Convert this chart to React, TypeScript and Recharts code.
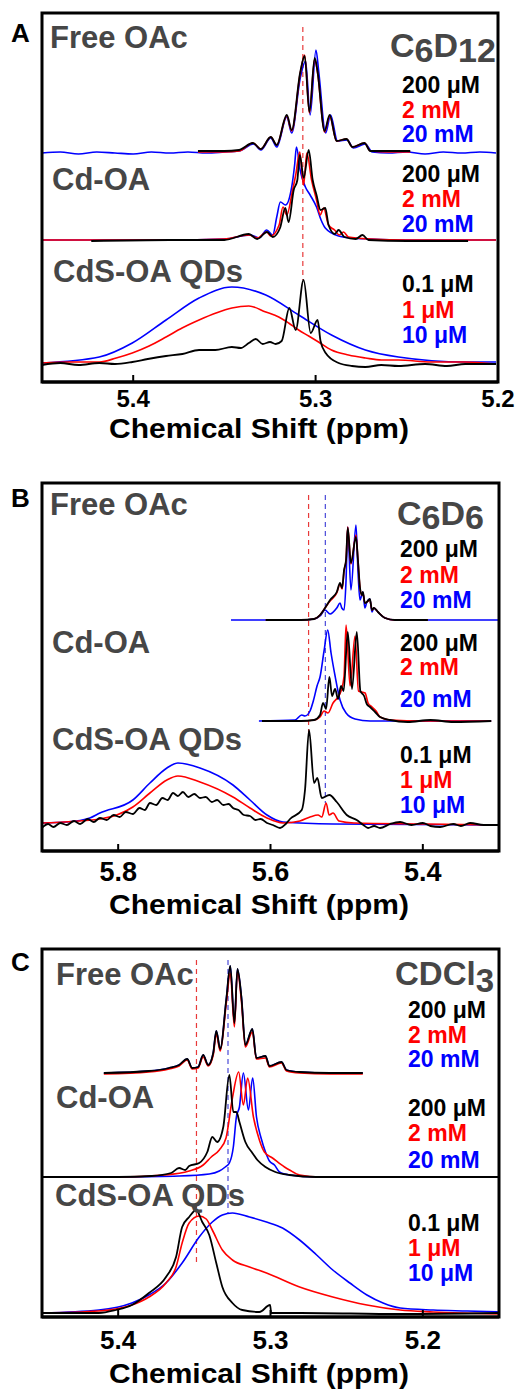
import React from "react";
import { LineChart, Line, XAxis, YAxis, ReferenceLine } from "recharts";

type Pt = [number, number]; // [ppm, intensity]

const BLACK = "#000000";
const RED = "#ff0000";
const BLUE = "#0000ff";
const GRAY = "#464646";

// ---------- Panel A (C6D12) ----------
const aTicks = [5.4, 5.3, 5.2];

const aFreeBlue: Pt[] = [
  [5.45, 0], [5.44, 1], [5.43, -1], [5.42, 1], [5.41, 0], [5.4, -1], [5.39, 1], [5.38, 0],
  [5.37, 1], [5.36, 0], [5.35, 1], [5.342, 2], [5.334, 9], [5.33, 3], [5.3246, 15], [5.3213, 6],
  [5.3158, 36], [5.3131, 20], [5.3084, 75], [5.3055, 92], [5.303, 38], [5.2998, 103], [5.2982, 80],
  [5.2945, 20], [5.2918, 38], [5.288, 12], [5.2826, 13], [5.2793, 5], [5.2727, 9], [5.269, 1],
  [5.26, 0], [5.25, 1], [5.24, -1], [5.23, 1], [5.22, 0], [5.21, 1], [5.2011, 0],
];
const aFreeRed: Pt[] = [
  [5.3645, 1], [5.35, 1], [5.342, 2], [5.3344, 10], [5.33, 4], [5.3246, 16], [5.3213, 8],
  [5.3158, 37], [5.3131, 22], [5.3084, 80], [5.306, 98], [5.3034, 40], [5.3005, 94], [5.2989, 80],
  [5.2951, 21], [5.2923, 37], [5.2885, 12], [5.2831, 14], [5.2798, 6], [5.2732, 10], [5.27, 2],
  [5.26, 1], [5.2481, 1],
];
const aFreeBlack: Pt[] = [
  [5.3645, 2], [5.35, 2], [5.342, 3], [5.3344, 10], [5.33, 4], [5.3246, 16], [5.3213, 8],
  [5.3158, 38], [5.3131, 23], [5.3084, 81], [5.306, 97], [5.3034, 41], [5.3005, 95], [5.2989, 81],
  [5.2951, 22], [5.2923, 38], [5.2885, 12], [5.2831, 14], [5.2798, 6], [5.2732, 10], [5.27, 2],
  [5.26, 2], [5.2481, 2],
];

const aCdBlue: Pt[] = [
  [5.45, 0], [5.38, 0], [5.35, 1], [5.3355, 5], [5.331, 2], [5.3268, 10], [5.3235, 5],
  [5.3213, 23], [5.3193, 38], [5.3165, 35], [5.3131, 53], [5.3115, 75], [5.3105, 93],
  [5.3085, 70], [5.3056, 53], [5.303, 45], [5.2995, 33], [5.297, 20], [5.2947, 12], [5.2874, 4],
  [5.28, 2], [5.27, 1], [5.25, 0], [5.2011, 0],
];
const aCdRed: Pt[] = [
  [5.45, 0], [5.38, 0], [5.35, 1], [5.3366, 5], [5.332, 2], [5.3268, 8], [5.3246, 4], [5.32, 15],
  [5.3179, 33], [5.3158, 25], [5.3126, 50], [5.3109, 65], [5.3087, 88], [5.3066, 55], [5.3048, 87],
  [5.3022, 60], [5.2995, 40], [5.2975, 25], [5.2956, 32], [5.2929, 15], [5.2896, 10], [5.287, 5],
  [5.2847, 8], [5.282, 3], [5.27, 1], [5.25, 0], [5.2011, 0],
];
const aCdBlack: Pt[] = [
  [5.423, -1], [5.38, 0], [5.35, 0], [5.3366, 6], [5.332, 1], [5.3266, 8], [5.3235, 3],
  [5.3195, 12], [5.3166, 32], [5.3148, 18], [5.312, 50], [5.31, 60], [5.3087, 85], [5.3065, 62],
  [5.3038, 90], [5.3016, 60], [5.2995, 45], [5.2973, 30], [5.2947, 32], [5.2929, 15], [5.2895, 6],
  [5.2874, 10], [5.2842, 3], [5.278, 1], [5.2743, 5], [5.271, 0], [5.25, -1], [5.2164, -1],
];

const aQdBlack: Pt[] = [
  [5.45, -2], [5.44, 0], [5.43, -2], [5.4186, 0], [5.41, -1], [5.4005, 1], [5.392, 4], [5.382, 7],
  [5.373, 9], [5.3639, 13], [5.355, 13], [5.3459, 16], [5.341, 15], [5.3366, 20], [5.3328, 24],
  [5.329, 19], [5.325, 21], [5.3219, 19], [5.3186, 22], [5.3144, 55], [5.3109, 33], [5.3066, 83],
  [5.3027, 30], [5.2989, 43], [5.2973, 22], [5.2945, 10], [5.2874, 0], [5.28, -3], [5.2727, -4],
  [5.264, -2], [5.2546, -3], [5.24, -1], [5.228, -3], [5.218, -1], [5.2011, -1],
];
const aQdRed: Pt[] = [
  [5.45, 0], [5.435, 1], [5.4186, 1], [5.4093, 5], [5.4005, 10], [5.3913, 17], [5.382, 26],
  [5.3732, 35], [5.3639, 43], [5.3546, 50], [5.3459, 55], [5.3366, 57], [5.3273, 51], [5.3202, 46],
  [5.3148, 40], [5.3093, 33], [5.3038, 27], [5.2984, 21], [5.2913, 13], [5.282, 8], [5.2727, 5],
  [5.2639, 3], [5.2546, 3], [5.2366, 1], [5.218, 1], [5.2011, -1],
];
const aQdBlue: Pt[] = [
  [5.45, 0], [5.4186, 6], [5.4005, 20], [5.382, 43], [5.3639, 65], [5.3459, 76], [5.3273, 68],
  [5.3093, 48], [5.2913, 28], [5.2727, 13], [5.2546, 6], [5.218, 1], [5.2011, 1],
];

// ---------- Panel B (C6D6) ----------
const bTicks = [5.8, 5.6, 5.4];

const bFreeBlue: Pt[] = [
  [5.6519, 0], [5.6, 0], [5.56, 0], [5.5428, 1], [5.535, 4], [5.5284, 10], [5.5218, 6],
  [5.513, 12], [5.5087, 17], [5.5064, 12], [5.5034, 10], [5.5008, 40], [5.4986, 93], [5.4944, 30],
  [5.4878, 95], [5.4852, 50], [5.4826, 20], [5.4787, 28], [5.4761, 12], [5.4735, 18], [5.4695, 21],
  [5.4668, 8], [5.4642, 12], [5.4589, 8], [5.4497, 2], [5.4366, 0], [5.3934, 0], [5.2997, 0],
];
const bFreeRed: Pt[] = [
  [5.6063, 0], [5.56, 0], [5.5428, 1], [5.535, 5], [5.5284, 12], [5.5218, 19], [5.513, 27],
  [5.5087, 36], [5.506, 31], [5.5034, 49], [5.5008, 60], [5.4986, 93], [5.4944, 56], [5.4878, 85],
  [5.4852, 60], [5.4826, 33], [5.48, 25], [5.4787, 27], [5.4761, 17], [5.4735, 18], [5.4695, 20],
  [5.4668, 10], [5.4642, 12], [5.4589, 8], [5.4497, 2], [5.4366, 0], [5.3934, 0],
];
const bFreeBlack: Pt[] = [
  [5.6063, 0], [5.56, 0], [5.5428, 1], [5.535, 5], [5.5284, 12], [5.5218, 20], [5.513, 28],
  [5.5087, 37], [5.506, 32], [5.5034, 50], [5.5008, 60], [5.4986, 92], [5.4944, 57], [5.4878, 83],
  [5.4852, 60], [5.4826, 33], [5.48, 25], [5.4787, 28], [5.4761, 17], [5.4735, 18], [5.4695, 21],
  [5.4668, 10], [5.4642, 12], [5.4589, 8], [5.4497, 2], [5.4366, 0], [5.3934, 0],
];

const bCdBlue: Pt[] = [
  [5.6152, 0], [5.5679, 1], [5.559, 6], [5.5547, 5], [5.5481, 10], [5.5438, 20], [5.5389, 35],
  [5.535, 44], [5.5297, 70], [5.5249, 91], [5.5205, 68], [5.5152, 45], [5.5087, 21], [5.5008, 8],
  [5.489, 2], [5.4693, 0], [5.3102, 0],
];
const bCdRed: Pt[] = [
  [5.6112, 0], [5.56, 0], [5.5428, 1], [5.535, 4], [5.5297, 10], [5.5245, 8], [5.5179, 18],
  [5.5113, 24], [5.5074, 30], [5.5034, 45], [5.5008, 96], [5.4955, 35], [5.489, 85], [5.4845, 30],
  [5.4758, 28], [5.4719, 18], [5.4667, 14], [5.4614, 10], [5.4562, 4], [5.443, 1], [5.4, 0],
  [5.3102, 0],
];
const bCdBlack: Pt[] = [
  [5.6112, 0], [5.56, 0], [5.5428, 1], [5.535, 6], [5.531, 18], [5.527, 12], [5.5227, 44],
  [5.5192, 25], [5.5152, 32], [5.5113, 22], [5.5074, 35], [5.504, 30], [5.4986, 89], [5.493, 32],
  [5.4867, 89], [5.482, 30], [5.4771, 25], [5.4736, 17], [5.4693, 14], [5.4627, 9], [5.4562, 4],
  [5.443, 1], [5.42, -1], [5.39, 1], [5.36, -1], [5.3102, 0],
];

const bQdBlack: Pt[] = [
  [5.9003, -3], [5.892, 1], [5.885, -2], [5.876, 2], [5.8674, 0], [5.858, 4], [5.85, 1], [5.84, 6],
  [5.832, 3], [5.824, 7], [5.815, 5], [5.806, 10], [5.798, 8], [5.79, 13], [5.7807, 11],
  [5.772, 17], [5.765, 15], [5.7583, 22], [5.75, 20], [5.742, 27], [5.735, 25], [5.728, 32],
  [5.7216, 29], [5.715, 33], [5.708, 28], [5.7, 31], [5.6926, 27], [5.685, 28], [5.677, 23],
  [5.67, 25], [5.662, 20], [5.655, 21], [5.6493, 17], [5.642, 15], [5.635, 10], [5.6269, 9],
  [5.62, 5], [5.613, 6], [5.6046, 2], [5.597, 0], [5.5875, -3], [5.58, 1], [5.5744, 6],
  [5.559, 15], [5.5547, 35], [5.5494, 95], [5.5428, 42], [5.5385, 47], [5.5327, 27], [5.5227, 30],
  [5.513, 23], [5.4999, 10], [5.4868, 5], [5.478, 0], [5.4719, -3], [5.464, -1], [5.4562, -3],
  [5.443, 1], [5.4299, 3], [5.415, 0], [5.4, 2], [5.39, -1], [5.3774, -2], [5.36, 1], [5.35, -1],
  [5.338, 2], [5.32, 0], [5.2997, 0],
];
const bQdRed: Pt[] = [
  [5.9003, 2], [5.824, 6], [5.7807, 18], [5.7583, 32], [5.736, 45], [5.7216, 49], [5.6926, 43],
  [5.6493, 28], [5.6269, 17], [5.6046, 7], [5.5836, 2], [5.5613, 4], [5.5481, 8], [5.5376, 10],
  [5.5327, 8], [5.527, 22], [5.523, 10], [5.5179, 12], [5.51, 4], [5.4904, 2], [5.4, 1], [5.2997, 0],
];
const bQdBlue: Pt[] = [
  [5.9003, 2], [5.8674, 3], [5.8372, 7], [5.824, 12], [5.7807, 25], [5.7583, 42], [5.736, 57],
  [5.7216, 62], [5.6926, 57], [5.6493, 40], [5.6269, 25], [5.6046, 10], [5.5836, 3], [5.5179, 1],
  [5.2997, 0],
];

// ---------- Panel C (CDCl3) ----------
const cTicks = [5.4, 5.3, 5.2];

const cFreeBlue: Pt[] = [
  [5.4094, 0], [5.3798, 2], [5.3666, 5], [5.36, 8], [5.3547, 14], [5.3514, 5], [5.3475, 6],
  [5.3442, 18], [5.3409, 8], [5.3376, 20], [5.3356, 42], [5.333, 24], [5.329, 74], [5.3264, 107],
  [5.3237, 50], [5.3217, 104], [5.3191, 76], [5.3165, 28], [5.3119, 44], [5.3093, 15],
  [5.3033, 17], [5.3007, 7], [5.2928, 11], [5.2895, 3], [5.2809, 1], [5.2611, 0], [5.2394, 0],
];
const cFreeRed: Pt[] = [
  [5.4094, -1], [5.3798, 1], [5.3666, 4], [5.36, 7], [5.3547, 13], [5.3514, 4], [5.3475, 5],
  [5.3442, 16], [5.3409, 7], [5.3376, 18], [5.3356, 39], [5.333, 22], [5.329, 70], [5.3264, 100],
  [5.3237, 46], [5.3217, 102], [5.3191, 72], [5.3165, 26], [5.3119, 41], [5.3093, 14],
  [5.3033, 15], [5.3007, 6], [5.2928, 10], [5.2895, 2], [5.2809, 0], [5.2611, -1], [5.2394, -1],
];
const cFreeBlack: Pt[] = [
  [5.4094, 0], [5.3798, 2], [5.3666, 5], [5.36, 8], [5.3547, 14], [5.3514, 5], [5.3475, 6],
  [5.3442, 18], [5.3409, 8], [5.3376, 20], [5.3356, 42], [5.333, 24], [5.329, 74], [5.3264, 107],
  [5.3237, 50], [5.3217, 104], [5.3191, 76], [5.3165, 28], [5.3119, 44], [5.3093, 15],
  [5.3033, 17], [5.3007, 7], [5.2928, 11], [5.2895, 3], [5.2809, 1], [5.2611, 0], [5.2394, 0],
];

const cCdBlue: Pt[] = [
  [5.3995, 0], [5.36, 1], [5.3402, 3], [5.3336, 6], [5.3297, 10], [5.327, 14], [5.3244, 30],
  [5.3224, 60], [5.3204, 70], [5.3178, 104], [5.3145, 67], [5.3117, 99], [5.3092, 60], [5.306, 38],
  [5.3033, 25], [5.3007, 16], [5.2974, 12], [5.2941, 5], [5.2875, 2], [5.27, 0], [5.1833, 0],
];
const cCdRed: Pt[] = [
  [5.451, 0], [5.4, 0], [5.37, 2], [5.3534, 6], [5.3442, 12], [5.3389, 20], [5.3336, 27],
  [5.3292, 39], [5.325, 79], [5.3209, 105], [5.3178, 72], [5.315, 99], [5.3112, 60], [5.3073, 37],
  [5.304, 25], [5.2987, 19], [5.2908, 10], [5.2875, 7], [5.2809, 2], [5.2677, 0], [5.1984, 0],
];
const cCdBlack: Pt[] = [
  [5.451, 0], [5.4, 0], [5.378, 1], [5.3653, 4], [5.36, 9], [5.356, 7], [5.3534, 11],
  [5.3468, 14], [5.3415, 25], [5.3382, 40], [5.335, 35], [5.331, 50], [5.327, 102], [5.3244, 65],
  [5.3224, 65], [5.3204, 55], [5.3165, 35], [5.3119, 24], [5.3086, 17], [5.3033, 10], [5.2968, 5],
  [5.2875, 2], [5.27, 0], [5.1497, 0],
];

const cQdBlack: Pt[] = [
  [5.451, 0], [5.4127, 0], [5.4015, 3], [5.391, 8], [5.3798, 20], [5.3686, 36], [5.362, 56],
  [5.358, 86], [5.3534, 96], [5.3488, 103], [5.3448, 91], [5.3402, 78], [5.3356, 50], [5.3316, 26],
  [5.325, 10], [5.3185, 3], [5.3073, 1], [5.3003, 8], [5.2995, 0], [5.28, 0], [5.2149, -1],
  [5.1497, 0],
];
const cQdRed: Pt[] = [
  [5.451, 0], [5.4127, 2], [5.391, 8], [5.3798, 16], [5.3686, 30], [5.362, 46], [5.358, 70],
  [5.3534, 90], [5.3468, 97], [5.3422, 94], [5.3382, 83], [5.3316, 63], [5.325, 53], [5.3138, 46],
  [5.3026, 40], [5.2809, 26], [5.2591, 16], [5.2367, 8], [5.2149, 3], [5.1932, 1], [5.1497, -1],
];
const cQdBlue: Pt[] = [
  [5.451, 0], [5.4127, 3], [5.391, 10], [5.3798, 18], [5.3686, 30], [5.358, 50], [5.3468, 76],
  [5.3382, 91], [5.3316, 98], [5.325, 100], [5.3138, 96], [5.3026, 91], [5.2921, 85], [5.2809, 73],
  [5.2697, 58], [5.2591, 43], [5.2479, 30], [5.2367, 18], [5.2261, 10], [5.2149, 5], [5.1932, 3],
  [5.1708, 2], [5.1497, 1],
];

// ---------- layout ----------
type Trace = { pts: Pt[]; off: number; color: string; w: number };
type Dash = { x: number; y1: number; y2: number; color: string };
type Conc = { text: string; color: string; base: number };

interface PanelSpec {
  letter: string;
  letterBase: number;
  top: number;
  bottom: number;
  left: number;
  right: number;
  domain: [number, number];
  ticks: number[];
  tickFont: number;
  tickGap: number;
  titleBase: number;
  traces: Trace[];
  dashes: Dash[];
  groups: { text: string; x: number; base: number }[];
  solvent: { parts: [string, boolean][]; x: number; base: number; size: number; sub: number };
  concX: number;
  conc: Conc[];
}

const trio = (blue: Pt[], red: Pt[], black: Pt[], off: number): Trace[] => [
  { pts: blue, off, color: BLUE, w: 1.6 },
  { pts: red, off, color: RED, w: 1.6 },
  { pts: black, off, color: BLACK, w: 1.8 },
];

const panels: PanelSpec[] = [
  {
    letter: "A", letterBase: 42, top: 13, bottom: 382, left: 42, right: 498,
    domain: [5.2, 5.45], ticks: aTicks, tickFont: 24, tickGap: 8, titleBase: 438,
    traces: [
      ...trio(aFreeBlue, aFreeRed, aFreeBlack, 229),
      ...trio(aCdBlue, aCdRed, aCdBlack, 142),
      ...trio(aQdBlue, aQdRed, aQdBlack, 19),
    ],
    dashes: [{ x: 5.307, y1: 355, y2: 102, color: "#e83a3a" }],
    groups: [
      { text: "Free OAc", x: 50, base: 48 },
      { text: "Cd-OA", x: 52, base: 190 },
      { text: "CdS-OA QDs", x: 53, base: 282 },
    ],
    solvent: { parts: [["C", false], ["6", true], ["D", false], ["12", true]], x: 390, base: 57, size: 34, sub: 5 },
    concX: 402,
    conc: [
      { text: "200 \u03bcM", color: BLACK, base: 93 },
      { text: "2 mM", color: RED, base: 118 },
      { text: "20 mM", color: BLUE, base: 142 },
      { text: "200 \u03bcM", color: BLACK, base: 182 },
      { text: "2 mM", color: RED, base: 207 },
      { text: "20 mM", color: BLUE, base: 232 },
      { text: "0.1 \u03bcM", color: BLACK, base: 292 },
      { text: "1 \u03bcM", color: RED, base: 318 },
      { text: "10 \u03bcM", color: BLUE, base: 343 },
    ],
  },
  {
    letter: "B", letterBase: 507, top: 483, bottom: 851, left: 42, right: 499,
    domain: [5.3, 5.9], ticks: bTicks, tickFont: 27, tickGap: 11, titleBase: 914,
    traces: [
      ...trio(bFreeBlue, bFreeRed, bFreeBlack, 231),
      ...trio(bCdBlue, bCdRed, bCdBlack, 130),
      ...trio(bQdBlue, bQdRed, bQdBlack, 26),
    ],
    dashes: [
      { x: 5.55, y1: 356, y2: 118, color: "#e83a3a" },
      { x: 5.528, y1: 356, y2: 48, color: "#4a4ad8" },
    ],
    groups: [
      { text: "Free OAc", x: 50, base: 515 },
      { text: "Cd-OA", x: 52, base: 653 },
      { text: "CdS-OA QDs", x: 52, base: 750 },
    ],
    solvent: { parts: [["C", false], ["6", true], ["D", false], ["6", true]], x: 397, base: 525, size: 34, sub: 4 },
    concX: 400,
    conc: [
      { text: "200 \u03bcM", color: BLACK, base: 557 },
      { text: "2 mM", color: RED, base: 583 },
      { text: "20 mM", color: BLUE, base: 608 },
      { text: "200 \u03bcM", color: BLACK, base: 651 },
      { text: "2 mM", color: RED, base: 675 },
      { text: "20 mM", color: BLUE, base: 707 },
      { text: "0.1 \u03bcM", color: BLACK, base: 763 },
      { text: "1 \u03bcM", color: RED, base: 788 },
      { text: "10 \u03bcM", color: BLUE, base: 813 },
    ],
  },
  {
    letter: "C", letterBase: 971, top: 949, bottom: 1317, left: 42, right: 499,
    domain: [5.15, 5.45], ticks: cTicks, tickFont: 26, tickGap: 14, titleBase: 1383,
    traces: [
      ...trio(cFreeBlue, cFreeRed, cFreeBlack, 244),
      ...trio(cCdBlue, cCdRed, cCdBlack, 140),
      ...trio(cQdBlue, cQdRed, cQdBlack, 4),
    ],
    dashes: [
      { x: 5.3486, y1: 357, y2: 52, color: "#e83a3a" },
      { x: 5.3279, y1: 357, y2: 104, color: "#4a4ad8" },
    ],
    groups: [
      { text: "Free OAc", x: 56, base: 985 },
      { text: "Cd-OA", x: 56, base: 1108 },
      { text: "CdS-OA QDs", x: 55, base: 1206 },
    ],
    solvent: { parts: [["CDCl", false], ["3", true]], x: 395, base: 985, size: 33, sub: 7 },
    concX: 408,
    conc: [
      { text: "200 \u03bcM", color: BLACK, base: 1018 },
      { text: "2 mM", color: RED, base: 1043 },
      { text: "20 mM", color: BLUE, base: 1067 },
      { text: "200 \u03bcM", color: BLACK, base: 1116 },
      { text: "2  mM", color: RED, base: 1141 },
      { text: "20 mM", color: BLUE, base: 1168 },
      { text: "0.1 \u03bcM", color: BLACK, base: 1231 },
      { text: "1 \u03bcM", color: RED, base: 1256 },
      { text: "10 \u03bcM", color: BLUE, base: 1281 },
    ],
  },
];

const FONT = "'Liberation Sans', Arial, Helvetica, sans-serif";
const PAD_TOP = 10;
const AXIS_H = 50;

function Panel({ p }: { p: PanelSpec }) {
  const plotH = p.bottom - p.top;
  return (
    <div style={{ position: "absolute", left: 0, top: p.top - PAD_TOP }}>
      <LineChart
        width={528}
        height={plotH + PAD_TOP + AXIS_H}
        margin={{ top: PAD_TOP, right: 528 - p.right, bottom: 0, left: p.left }}
      >
        <XAxis
          dataKey="ppm"
          type="number"
          domain={p.domain}
          reversed
          allowDataOverflow
          ticks={p.ticks}
          height={AXIS_H}
          tickSize={-7}
          tickMargin={7 + p.tickGap}
          axisLine={{ stroke: BLACK, strokeWidth: 3 }}
          tickLine={{ stroke: BLACK, strokeWidth: 2 }}
          tick={{ fill: BLACK, fontSize: p.tickFont, fontWeight: "bold", fontFamily: FONT }}
        />
        <YAxis hide type="number" domain={[0, plotH]} allowDataOverflow />
        {p.dashes.map((d, i) => (
          <ReferenceLine
            key={"d" + i}
            segment={[{ x: d.x, y: d.y1 }, { x: d.x, y: d.y2 }]}
            stroke={d.color}
            strokeWidth={1.2}
            strokeDasharray="5 4"
          />
        ))}
        {p.traces.map((t, i) => (
          <Line
            key={"t" + i}
            data={t.pts.map(([ppm, v]) => ({ ppm, y: v + t.off }))}
            dataKey="y"
            type="monotone"
            stroke={t.color}
            strokeWidth={t.w}
            dot={false}
            activeDot={false}
            isAnimationActive={false}
          />
        ))}
      </LineChart>
    </div>
  );
}

function Overlay() {
  return (
    <svg
      width={528}
      height={1392}
      style={{ position: "absolute", left: 0, top: 0, pointerEvents: "none" }}
      fontFamily={FONT}
      fontWeight="bold"
    >
      {panels.map((p) => (
        <g key={p.letter}>
          <rect
            x={p.left}
            y={p.top}
            width={p.right - p.left}
            height={p.bottom - p.top}
            fill="none"
            stroke={BLACK}
            strokeWidth={3}
          />
          <text x={11} y={p.letterBase} fontSize={26} fill={BLACK}>
            {p.letter}
          </text>
          {p.groups.map((g) => (
            <text key={g.text} x={g.x} y={g.base} fontSize={31} fill={GRAY}>
              {g.text}
            </text>
          ))}
          <text x={p.solvent.x} y={p.solvent.base} fontSize={p.solvent.size} fill={GRAY}>
            {p.solvent.parts.map(([s, sub], i) => (
              <tspan key={i} dy={i === 0 ? 0 : sub ? p.solvent.sub : -p.solvent.sub}>
                {s}
              </tspan>
            ))}
          </text>
          {p.conc.map((c, i) => (
            <text key={i} x={p.concX} y={c.base} fontSize={23} fill={c.color}>
              {c.text}
            </text>
          ))}
          <text
            x={259}
            y={p.titleBase}
            fontSize={27}
            fill={BLACK}
            textAnchor="middle"
            textLength={300}
            lengthAdjust="spacingAndGlyphs"
          >
            Chemical Shift (ppm)
          </text>
        </g>
      ))}
    </svg>
  );
}

export default function App() {
  return (
    <div style={{ position: "relative", width: 528, height: 1392, background: "#fff" }}>
      <style>{"body{margin:0}"}</style>
      {panels.map((p) => (
        <Panel key={p.letter} p={p} />
      ))}
      <Overlay />
    </div>
  );
}
